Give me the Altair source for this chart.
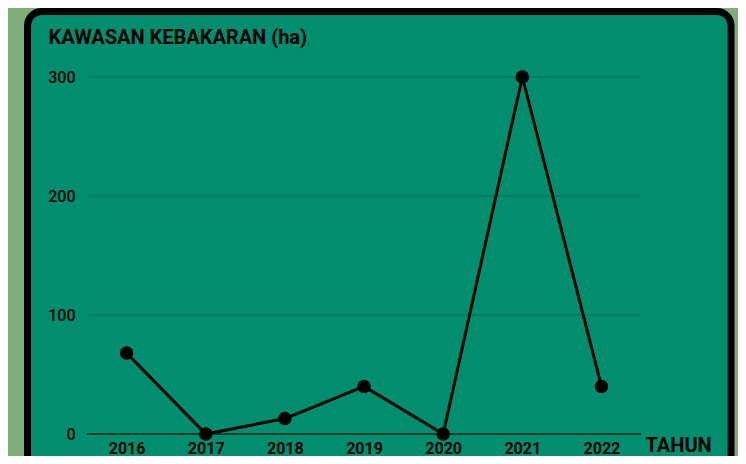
import altair as alt
import pandas as pd

years = ["2016", "2017", "2018", "2019", "2020", "2021", "2022"]
area_ha = [68, 0, 13, 40, 0, 300, 40]
y_ticks = [0, 100, 200, 300]
grid_ticks = [100, 200, 300]
base_tick = [0]

df = pd.DataFrame({"Tahun": years, "Kawasan": area_ha})
grid_df = pd.DataFrame({"Kawasan": grid_ticks})
base_df = pd.DataFrame({"Kawasan": base_tick})

W, H = 554, 357
FONT = "Roboto"

panel = alt.Chart(pd.DataFrame({"k": [0]})).mark_rect(
    fill="#008e6e", stroke="black", strokeWidth=7, cornerRadius=14
).encode(
    x=alt.value(-59.5), x2=alt.value(644), y=alt.value(-65.5), y2=alt.value(H + 80)
)

x_enc = alt.X(
    "Tahun:N",
    sort=years,
    scale=alt.Scale(type="point", padding=0.5),
    axis=alt.Axis(
        title="TAHUN", titleFontSize=20, titleFontWeight="bold", titleFont=FONT,
        titleAlign="left", titleBaseline="alphabetic", titleAnchor="start", titleAngle=0,
        titleX=558, titleY=17, titleColor="black",
        labelFont=FONT, labelFontSize=16, labelFontWeight="bold",
        labelColor="black", labelPadding=6, labelAngle=0,
        ticks=False, grid=False, domain=False, zindex=1,
    ),
)
y_scale = alt.Scale(domain=[0, 300], nice=False)
y_enc = alt.Y(
    "Kawasan:Q",
    scale=y_scale,
    axis=alt.Axis(
        values=y_ticks,
        title="KAWASAN KEBAKARAN (ha)", titleFontSize=20, titleFontWeight="bold",
        titleFont=FONT, titleAngle=0, titleAlign="left",
        titleBaseline="alphabetic", titleX=-39, titleY=-34, titleColor="black",
        labelFont=FONT, labelFontSize=16, labelFontWeight=500, labelColor="black",
        labelPadding=12, ticks=False, domain=False, grid=False, zindex=1,
    ),
)

grid = alt.Chart(grid_df).mark_rule(color="#0b6e50", strokeWidth=1).encode(
    y=alt.Y("Kawasan:Q", scale=y_scale), x=alt.value(0), x2=alt.value(W)
)
base = alt.Chart(base_df).mark_rule(color="#123c2c", strokeWidth=2).encode(
    y=alt.Y("Kawasan:Q", scale=y_scale), x=alt.value(0), x2=alt.value(W)
)
line = alt.Chart(df).mark_line(color="black", strokeWidth=3).encode(x=x_enc, y=y_enc)
pts = alt.Chart(df).mark_circle(color="black", size=180, opacity=1).encode(x=x_enc, y=y_enc)

chart = alt.layer(panel, grid, base, line, pts).properties(
    width=W, height=H, background="#7fae76",
    autosize=alt.AutoSizeParams(type="none"),
    padding={"left": 79, "top": 69, "right": 97, "bottom": 22},
).configure_view(stroke=None)

chart.save("out.html", embed_options={"renderer": "svg", "actions": False})
